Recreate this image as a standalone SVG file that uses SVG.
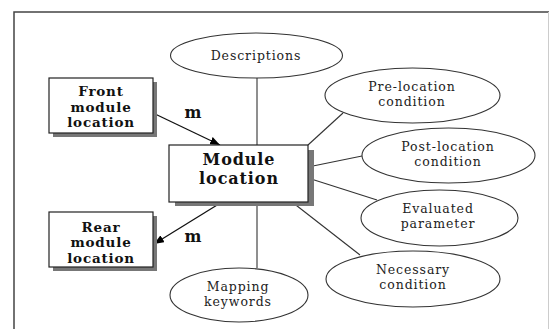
<svg xmlns="http://www.w3.org/2000/svg" width="550" height="329" viewBox="0 0 550 329">
  <defs>
    <marker id="arrow" viewBox="0 0 10 8" refX="10" refY="4" markerWidth="10" markerHeight="8" markerUnits="userSpaceOnUse" orient="auto">
      <path d="M0,0 L10,4 L0,8 Z" fill="#000"/>
    </marker>
  </defs>
  <style>
    .frame { fill: none; stroke: #444; stroke-width: 1.5; }
    .box { fill: #fff; stroke: #222; stroke-width: 1.2; }
    .shadow { fill: #777; }
    .oval { fill: #fff; stroke: #333; stroke-width: 1.1; }
    .link { stroke: #333; stroke-width: 1.1; fill: none; }
    .arrow { stroke: #111; stroke-width: 1.3; fill: none; marker-end: url(#arrow); }
    .lbl { font-family: "DejaVu Serif", "Liberation Serif", serif; font-size: 12.5px; letter-spacing: 0.9px; fill: #222; text-anchor: middle; }
    .blbl { font-family: "DejaVu Serif", "Liberation Serif", serif; font-size: 13.5px; letter-spacing: 0.8px; font-weight: bold; fill: #111; text-anchor: middle; }
    .big { font-family: "DejaVu Serif", "Liberation Serif", serif; font-size: 16px; letter-spacing: 0.9px; font-weight: bold; fill: #111; text-anchor: middle; }
    .tag { font-family: "DejaVu Serif", "Liberation Serif", serif; font-size: 16px; font-weight: bold; fill: #111; text-anchor: middle; }
  </style>

  <rect width="550" height="329" fill="#fff"/>
  <!-- outer frame -->
  <path class="frame" d="M14,329 V12 H549"/>
  <line x1="548.5" y1="12" x2="548.5" y2="329" stroke="#ccc" stroke-width="1"/>

  <!-- connectors -->
  <g id="connectors">
    <line class="link" x1="257" y1="78" x2="257" y2="145"/>
    <line class="link" x1="257" y1="202" x2="257" y2="268"/>
    <line class="link" x1="308" y1="145" x2="343" y2="113"/>
    <line class="link" x1="308" y1="167" x2="362" y2="156"/>
    <line class="link" x1="308" y1="178" x2="377" y2="200"/>
    <line class="link" x1="292" y1="202" x2="360" y2="255"/>
    <line class="arrow" x1="153" y1="113" x2="220" y2="145"/>
    <line class="arrow" x1="222" y1="202" x2="154" y2="244"/>
    <text class="tag" x="193" y="118">m</text>
    <text class="tag" x="193" y="242">m</text>
  </g>

  <g id="descriptions">
    <ellipse class="oval" cx="256.5" cy="55.5" rx="86" ry="22.5"/>
    <text class="lbl" x="256" y="60">Descriptions</text>
  </g>

  <g id="front-module">
    <rect class="shadow" x="53" y="82" width="104" height="55"/>
    <rect class="box" x="49" y="78" width="104" height="55"/>
    <text class="blbl" x="101" y="96">Front</text>
    <text class="blbl" x="101" y="111.5">module</text>
    <text class="blbl" x="101" y="127">location</text>
  </g>

  <g id="module-location">
    <rect class="shadow" x="175" y="150" width="139" height="56" fill="#555"/>
    <rect class="box" x="169" y="145" width="139" height="57"/>
    <text class="big" x="239" y="165">Module</text>
    <text class="big" x="239" y="183.5">location</text>
  </g>

  <g id="rear-module">
    <rect class="shadow" x="53" y="216" width="104" height="55"/>
    <rect class="box" x="49" y="212" width="104" height="55"/>
    <text class="blbl" x="101" y="231.5">Rear</text>
    <text class="blbl" x="101" y="247">module</text>
    <text class="blbl" x="101" y="262.5">location</text>
  </g>

  <g id="mapping-keywords">
    <ellipse class="oval" cx="239" cy="295" rx="69" ry="27"/>
    <text class="lbl" x="238" y="291">Mapping</text>
    <text class="lbl" x="238" y="305.5">keywords</text>
  </g>

  <g id="pre-location">
    <ellipse class="oval" cx="412.5" cy="95.5" rx="87.5" ry="27.5"/>
    <text class="lbl" x="412" y="91">Pre-location</text>
    <text class="lbl" x="412" y="105.5">condition</text>
  </g>

  <g id="post-location">
    <ellipse class="oval" cx="448.5" cy="155.5" rx="86.5" ry="27.5"/>
    <text class="lbl" x="448" y="151">Post-location</text>
    <text class="lbl" x="448" y="165.5">condition</text>
  </g>

  <g id="evaluated-parameter">
    <ellipse class="oval" cx="439.5" cy="218" rx="78.5" ry="28"/>
    <text class="lbl" x="438" y="213">Evaluated</text>
    <text class="lbl" x="438" y="227.5">parameter</text>
  </g>

  <g id="necessary-condition">
    <ellipse class="oval" cx="413" cy="279" rx="87" ry="28"/>
    <text class="lbl" x="413" y="274">Necessary</text>
    <text class="lbl" x="413" y="288.5">condition</text>
  </g>
</svg>
